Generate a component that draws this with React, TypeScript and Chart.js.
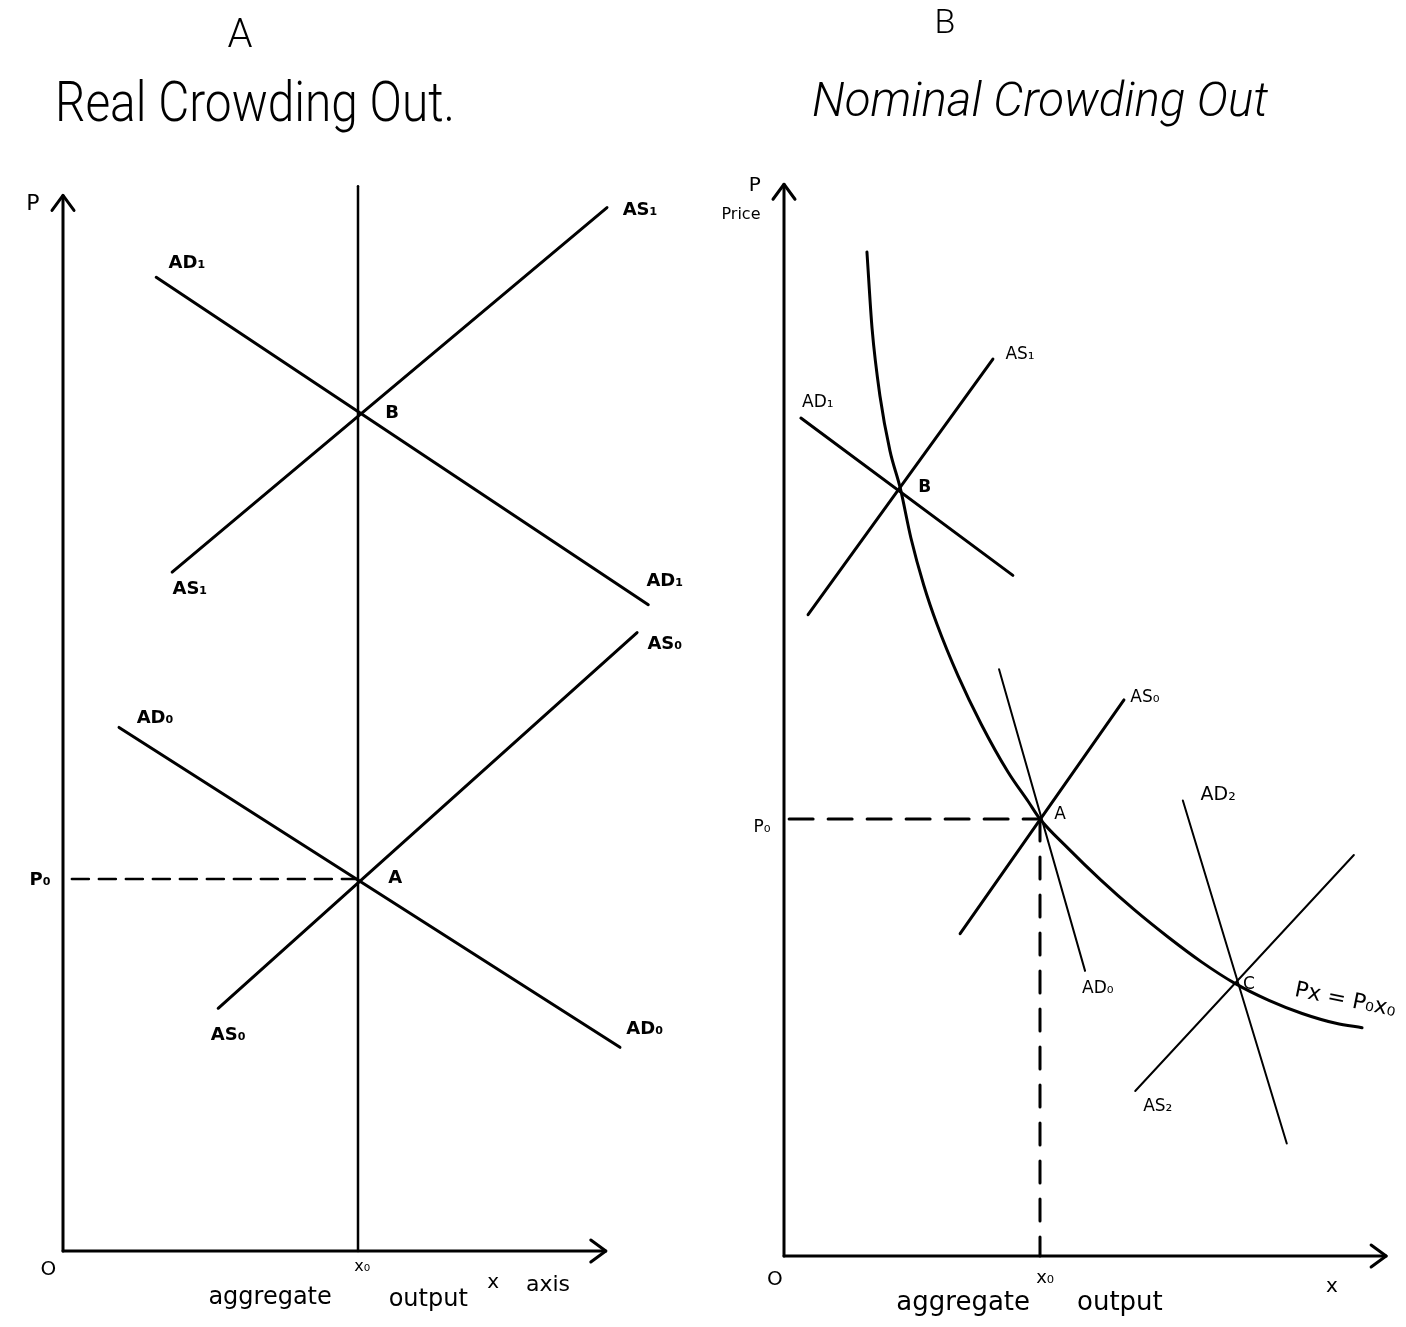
import React, { useEffect, useRef } from "react";
import { Chart, registerables } from "chart.js";

Chart.register(...registerables);

type Pt = [number, number];

// ---------------- Panel A : Real Crowding Out ----------------
const A_X0 = 5; // x0, aggregate output
const A_P0 = 4; // P0, price level
const A_X_AXIS_END = 9.2;
const A_Y_AXIS_END = 11.35;
const A_X0_LINE_TOP = 11.45;
const A_DASH_START = 0.15;
const A_AD1: Pt[] = [[1.58, 10.47], [9.92, 6.95]];
const A_AS1: Pt[] = [[1.85, 7.3], [9.22, 11.22]];
const A_AD0: Pt[] = [[0.95, 5.63], [9.44, 2.19]];
const A_AS0: Pt[] = [[2.63, 2.61], [9.73, 6.65]];

// ---------------- Panel B : Nominal Crowding Out ----------------
const B_X0 = 5;
const B_P0 = 4;
const B_X_AXIS_END = 11.76;
const B_Y_AXIS_END = 9.81;
const B_DASH_START = 0.1;
// rectangular hyperbola  P·x = P0·x0 (as drawn)
const B_CURVE: Pt[] = [
  [1.62, 9.19], [1.72, 8.49], [1.875, 7.87], [2.07, 7.37], [2.27, 7.03],
  [2.48, 6.57], [2.73, 6.14], [2.99, 5.78], [3.4, 5.31], [3.85, 4.87],
  [4.375, 4.43], [4.77, 4.16], [5.0, 4.0], [5.53, 3.74], [6.19, 3.44],
  [6.84, 3.17], [7.5, 2.92], [8.16, 2.69], [8.79, 2.5], [9.47, 2.34],
  [10.12, 2.22], [10.78, 2.13], [11.29, 2.09],
];
const B_AS1: Pt[] = [[0.47, 5.87], [4.08, 8.21]];
const B_AD1: Pt[] = [[0.33, 7.67], [4.47, 6.23]];
const B_AS0: Pt[] = [[3.44, 2.95], [6.64, 5.09]];
const B_AD0: Pt[] = [[4.2, 5.37], [5.88, 2.61]];
const B_AS2: Pt[] = [[6.86, 1.51], [11.13, 3.67]];
const B_AD2: Pt[] = [[7.79, 4.17], [9.82, 1.03]];

type Label = { t: string; x: number; y: number; size?: number; bold?: boolean; rot?: number };

const A_LABELS: Label[] = [
  { t: "P", x: -0.51, y: 11.25, size: 22, bold: false },
  { t: "AD₁", x: 2.1, y: 10.62 },
  { t: "AS₁", x: 9.78, y: 11.19 },
  { t: "B", x: 5.58, y: 9.01 },
  { t: "AS₁", x: 2.15, y: 7.11 },
  { t: "AD₁", x: 10.2, y: 7.2 },
  { t: "AS₀", x: 10.2, y: 6.52 },
  { t: "AD₀", x: 1.56, y: 5.73 },
  { t: "A", x: 5.63, y: 4.01 },
  { t: "P₀", x: -0.39, y: 3.99 },
  { t: "AS₀", x: 2.8, y: 2.32 },
  { t: "AD₀", x: 9.86, y: 2.38 },
  { t: "O", x: -0.25, y: -0.2, size: 20, bold: false },
  { t: "x₀", x: 5.07, y: -0.17, size: 16, bold: false },
  { t: "aggregate", x: 3.51, y: -0.5, size: 24, bold: false },
  { t: "output", x: 6.19, y: -0.52, size: 24, bold: false },
  { t: "x", x: 7.29, y: -0.34, size: 20, bold: false },
  { t: "axis", x: 8.22, y: -0.37, size: 22, bold: false },
];

const B_LABELS: Label[] = [
  { t: "P", x: -0.57, y: 9.8, size: 20 },
  { t: "Price", x: -0.84, y: 9.53, size: 16 },
  { t: "AS₁", x: 4.61, y: 8.25 },
  { t: "AD₁", x: 0.66, y: 7.81 },
  { t: "B", x: 2.75, y: 7.03, bold: true },
  { t: "AS₀", x: 7.05, y: 5.11 },
  { t: "A", x: 5.39, y: 4.04 },
  { t: "AD₂", x: 8.48, y: 4.22, size: 19 },
  { t: "P₀", x: -0.43, y: 3.92 },
  { t: "AD₀", x: 6.13, y: 2.45 },
  { t: "C", x: 9.08, y: 2.48 },
  { t: "Px = P₀x₀", x: 10.96, y: 2.34, size: 22, rot: 0.2 },
  { t: "AS₂", x: 7.3, y: 1.37 },
  { t: "O", x: -0.18, y: -0.22, size: 20 },
  { t: "x₀", x: 5.1, y: -0.2, size: 18 },
  { t: "aggregate", x: 3.5, y: -0.43, size: 26 },
  { t: "output", x: 6.56, y: -0.43, size: 26 },
  { t: "x", x: 10.7, y: -0.28, size: 20 },
];

type Title = { t: string; cx: number; base: number; size: number; italic?: boolean; width?: number };

const A_TITLES: Title[] = [
  { t: "A", cx: 240, base: 47, size: 40 },
  { t: "Real Crowding Out.", cx: 255, base: 121, size: 56, width: 400 },
];
const B_TITLES: Title[] = [
  { t: "B", cx: 242, base: 33, size: 34 },
  { t: "Nominal Crowding Out", cx: 337, base: 116, size: 48, italic: true, width: 456 },
];

const FONT = "'DejaVu Sans', 'Liberation Sans', sans-serif";
const TITLE_FONT = "Roboto, 'DejaVu Sans', sans-serif";

const toXY = (pts: Pt[]) => pts.map(([x, y]) => ({ x, y }));
const seg = (pts: Pt[], width: number, dash: number[] = [], smooth = false) => ({
  data: toXY(pts),
  borderColor: "#000",
  backgroundColor: "#000",
  borderWidth: width,
  borderDash: dash,
  borderCapStyle: "round",
  pointRadius: 0,
  showLine: true,
  fill: false,
  tension: smooth ? 0.4 : 0,
  cubicInterpolationMode: smooth ? "monotone" : "default",
  clip: false,
});

type PanelSpec = {
  datasets: any[];
  xMax: number;
  yMax: number;
  padding: { left: number; right: number; top: number; bottom: number };
  xEnd: number;
  yEnd: number;
  labels: Label[];
  titles: Title[];
  labelSize: number;
  labelBold: boolean;
};

const PANEL_A: PanelSpec = {
  datasets: [
    seg([[0, 0], [0, A_Y_AXIS_END]], 3),
    seg([[0, 0], [A_X_AXIS_END, 0]], 3),
    seg([[A_X0, 0], [A_X0, A_X0_LINE_TOP]], 2.5),
    seg(A_AD1, 3),
    seg(A_AS1, 3),
    seg(A_AD0, 3),
    seg(A_AS0, 3),
    seg([[A_DASH_START, A_P0], [A_X0, A_P0]], 2.5, [17, 10]),
  ],
  xMax: 10,
  yMax: 12,
  padding: { left: 63, right: 50, top: 135, bottom: 76 },
  xEnd: A_X_AXIS_END,
  yEnd: A_Y_AXIS_END,
  labels: A_LABELS,
  titles: A_TITLES,
  labelSize: 18,
  labelBold: true,
};

const PANEL_B: PanelSpec = {
  datasets: [
    seg([[0, 0], [0, B_Y_AXIS_END]], 3),
    seg([[0, 0], [B_X_AXIS_END, 0]], 3),
    seg(B_CURVE, 3, [], true),
    seg(B_AS1, 3),
    seg(B_AD1, 3),
    seg(B_AS0, 3),
    seg(B_AD0, 2),
    seg(B_AS2, 2),
    seg(B_AD2, 2),
    seg([[B_DASH_START, B_P0], [B_X0, B_P0]], 3, [24, 15]),
    seg([[B_X0, B_P0], [B_X0, 0]], 3, [22, 16]),
  ],
  xMax: 12,
  yMax: 10,
  padding: { left: 81, right: 7.6, top: 163.5, bottom: 71 },
  xEnd: B_X_AXIS_END,
  yEnd: B_Y_AXIS_END,
  labels: B_LABELS,
  titles: B_TITLES,
  labelSize: 17,
  labelBold: false,
};

function makeDecor(p: PanelSpec) {
  return {
    id: "decor",
    afterDatasetsDraw(chart: any) {
      const ctx: CanvasRenderingContext2D = chart.ctx;
      const xs = chart.scales.x;
      const ys = chart.scales.y;
      const px = (v: number) => xs.getPixelForValue(v);
      const py = (v: number) => ys.getPixelForValue(v);
      ctx.save();
      ctx.strokeStyle = "#000";
      ctx.fillStyle = "#000";
      ctx.lineWidth = 3;
      ctx.lineCap = "round";
      ctx.lineJoin = "round";
      // arrowheads on the axes
      const uy = [px(0), py(p.yEnd)];
      ctx.beginPath();
      ctx.moveTo(uy[0] - 11, uy[1] + 15);
      ctx.lineTo(uy[0], uy[1]);
      ctx.lineTo(uy[0] + 11, uy[1] + 15);
      ctx.stroke();
      const ux = [px(p.xEnd), py(0)];
      ctx.beginPath();
      ctx.moveTo(ux[0] - 15, ux[1] - 11);
      ctx.lineTo(ux[0], ux[1]);
      ctx.lineTo(ux[0] - 15, ux[1] + 11);
      ctx.stroke();
      // labels
      ctx.textAlign = "center";
      ctx.textBaseline = "middle";
      for (const l of p.labels) {
        const bold = l.bold ?? p.labelBold;
        ctx.font = `${bold ? "bold " : ""}${l.size ?? p.labelSize}px ${FONT}`;
        ctx.save();
        ctx.translate(px(l.x), py(l.y));
        if (l.rot) ctx.rotate(l.rot);
        ctx.fillText(l.t, 0, 0);
        ctx.restore();
      }
      // titles
      ctx.textBaseline = "alphabetic";
      for (const t of p.titles) {
        ctx.font = `${t.italic ? "italic " : ""}300 ${t.size}px ${TITLE_FONT}`;
        ctx.save();
        ctx.translate(t.cx, t.base);
        if (t.width) {
          const w = ctx.measureText(t.t).width;
          ctx.scale(t.width / w, 1);
        }
        ctx.fillText(t.t, 0, 0);
        ctx.restore();
      }
      ctx.restore();
    },
  };
}

function makeConfig(p: PanelSpec): any {
  return {
    type: "scatter",
    data: { datasets: p.datasets },
    options: {
      animation: false,
      responsive: false,
      events: [],
      layout: { padding: p.padding },
      scales: {
        x: { type: "linear", display: false, min: 0, max: p.xMax },
        y: { type: "linear", display: false, min: 0, max: p.yMax },
      },
      plugins: {
        legend: { display: false },
        tooltip: { enabled: false },
        title: { display: false },
      },
    },
    plugins: [makeDecor(p)],
  };
}

export default function App() {
  const refA = useRef<HTMLCanvasElement>(null);
  const refB = useRef<HTMLCanvasElement>(null);
  useEffect(() => {
    const a = new Chart(refA.current as HTMLCanvasElement, makeConfig(PANEL_A));
    const b = new Chart(refB.current as HTMLCanvasElement, makeConfig(PANEL_B));
    return () => {
      a.destroy();
      b.destroy();
    };
  }, []);
  return (
    <div style={{ position: "absolute", left: 0, top: 0, width: 1406, height: 1327, background: "#fff" }}>
      <canvas
        ref={refA}
        width={703}
        height={1327}
        style={{ position: "absolute", left: 0, top: 0, width: 703, height: 1327 }}
      />
      <canvas
        ref={refB}
        width={703}
        height={1327}
        style={{ position: "absolute", left: 703, top: 0, width: 703, height: 1327 }}
      />
    </div>
  );
}
